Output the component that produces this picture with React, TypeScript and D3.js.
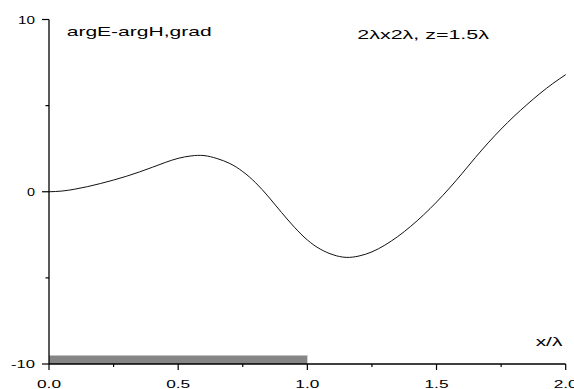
import React from "react";
import * as d3 from "d3";

const xValues = [0, 0.05, 0.1, 0.15, 0.2, 0.25, 0.3, 0.35, 0.4, 0.45, 0.5, 0.55, 0.6, 0.65, 0.7, 0.75, 0.8, 0.85, 0.9, 0.95, 1.0, 1.05, 1.1, 1.15, 1.2, 1.25, 1.3, 1.35, 1.4, 1.45, 1.5, 1.55, 1.6, 1.65, 1.7, 1.75, 1.8, 1.85, 1.9, 1.95, 2.0];
const yValues = [0, 0.04, 0.15, 0.3, 0.48, 0.68, 0.9, 1.15, 1.42, 1.7, 1.94, 2.08, 2.1, 1.93, 1.64, 1.17, 0.52, -0.3, -1.2, -2.06, -2.8, -3.33, -3.66, -3.81, -3.73, -3.49, -3.1, -2.6, -2.01, -1.34, -0.6, 0.21, 1.08, 1.98, 2.84, 3.64, 4.38, 5.06, 5.7, 6.28, 6.8];

const xMajorTicks = [0, 0.5, 1.0, 1.5, 2.0];
const xMinorTicks = [0.25, 0.75, 1.25, 1.75];
const xTickLabels = ["0.0", "0.5", "1.0", "1.5", "2.0"];
const yMajorTicks = [10, 0, -10];
const yMinorTicks = [5, -5];
const yTickLabels = ["10", "0", "-10"];
const barRange = [0, 1.0];
const barValues = [-10, -9.48];

const titleLeft = "argE-argH,grad";
const titleRight = "2\u03bbx2\u03bb, z=1.5\u03bb";
const xAxisLabel = "x/\u03bb";

export default function App() {
  const W = 574, H = 389;
  const x = d3.scaleLinear().domain([0, 2]).range([49, 565.7]);
  const y = d3.scaleLinear().domain([-10, 10]).range([364, 19.5]);
  const data = xValues.map((v, i) => [v, yValues[i]] as [number, number]);
  const line = d3.line<[number, number]>().x(d => x(d[0])).y(d => y(d[1])).curve(d3.curveNatural);
  const font = "'Liberation Sans', Arial, sans-serif";
  const yLabelWidths = [17, 8, 24];
  const xLabelWidth = 24;
  return (
    <svg width={W} height={H} style={{ position: "absolute", left: 0, top: 0, background: "#fff" }} fontFamily={font}>
      <rect x={x(barRange[0])} y={y(barValues[1])} width={x(barRange[1]) - x(barRange[0])} height={y(barValues[0]) - y(barValues[1])} fill="#858585" />
      <line x1={x(barRange[0])} x2={x(barRange[1])} y1={y(barValues[1]) + 0.5} y2={y(barValues[1]) + 0.5} stroke="#c4c4c4" strokeWidth={1} />
      <path d={line(data) || ""} fill="none" stroke="#111" strokeWidth={1} />
      <line x1={x(0)} x2={x(0)} y1={y(10)} y2={y(-10)} stroke="#000" strokeWidth={1.3} />
      <line x1={x(0)} x2={x(2)} y1={y(-10)} y2={y(-10)} stroke="#000" strokeWidth={1.3} />
      {yMajorTicks.map((t, i) => (
        <g key={"ym" + t}>
          <line x1={x(0) - 7} x2={x(0)} y1={y(t)} y2={y(t)} stroke="#000" strokeWidth={1.2} />
          <text x={35} y={y(t) + 4} textAnchor="end" fontSize={11} textLength={yLabelWidths[i]} lengthAdjust="spacingAndGlyphs" fill="#000">{yTickLabels[i]}</text>
        </g>
      ))}
      {yMinorTicks.map(t => (
        <line key={"yn" + t} x1={x(0) - 3.5} x2={x(0)} y1={y(t)} y2={y(t)} stroke="#000" strokeWidth={1.2} />
      ))}
      {xMajorTicks.map((t, i) => (
        <g key={"xm" + t}>
          <line x1={x(t)} x2={x(t)} y1={y(-10)} y2={y(-10) + 6} stroke="#000" strokeWidth={1.2} />
          <text x={x(t)} y={388} textAnchor="middle" fontSize={11} textLength={xLabelWidth} lengthAdjust="spacingAndGlyphs" fill="#000">{xTickLabels[i]}</text>
        </g>
      ))}
      {xMinorTicks.map(t => (
        <line key={"xn" + t} x1={x(t)} x2={x(t)} y1={y(-10)} y2={y(-10) + 3} stroke="#000" strokeWidth={1.2} />
      ))}
      <text x={66.7} y={36} fontSize={13.5} textLength={145} lengthAdjust="spacingAndGlyphs" fill="#000">{titleLeft}</text>
      <text x={357.3} y={39.3} fontSize={12} textLength={131.7} lengthAdjust="spacingAndGlyphs" fill="#000">{titleRight}</text>
      <text x={535.7} y={345.7} fontSize={12} textLength={26.7} lengthAdjust="spacingAndGlyphs" fill="#000">{xAxisLabel}</text>
    </svg>
  );
}
